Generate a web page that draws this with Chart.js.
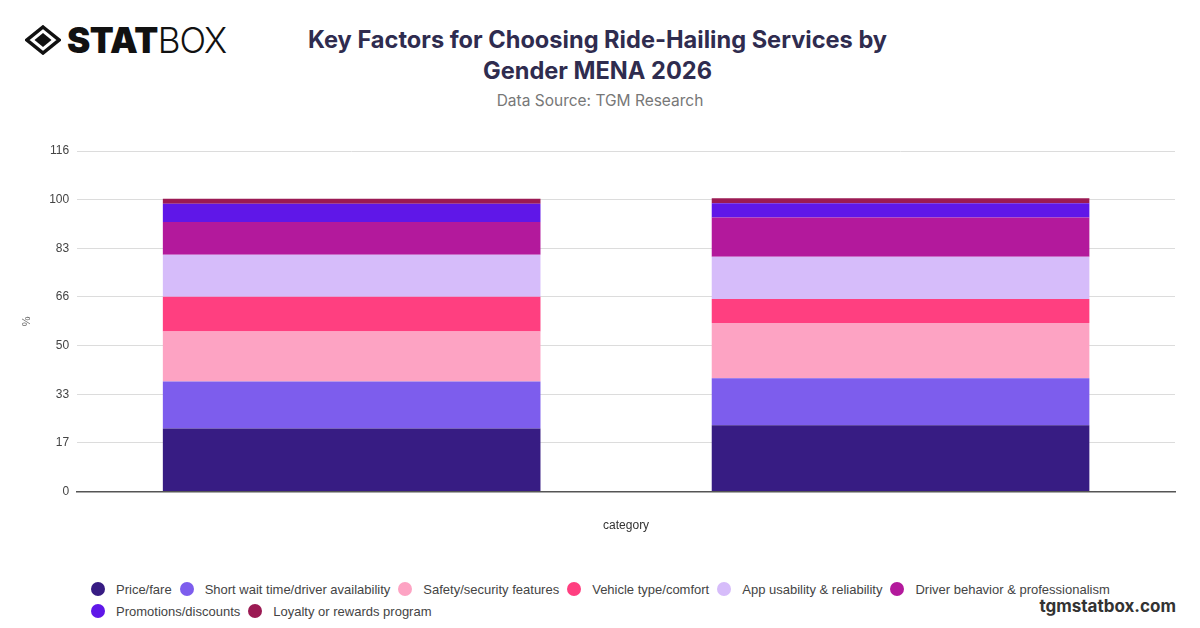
<!DOCTYPE html>
<html>
<head>
<meta charset="utf-8">
<script src="https://cdn.jsdelivr.net/npm/chart.js@4.4.1/dist/chart.umd.min.js"></script>
<style>
  html, body { margin: 0; padding: 0; background: #fff; }
  body { width: 1200px; height: 628px; position: relative; overflow: hidden; font-family: Inter, "Liberation Sans", sans-serif; }
  #logo { position: absolute; left: 25px; top: 24px; height: 32px; display: flex; align-items: center; }
  #logo .stat { font-weight: 900; font-size: 35px; color: #111; letter-spacing: -0.5px; margin-left: 6px; }
  #logo .box { font-weight: 300; font-size: 35px; color: #111; letter-spacing: -1px; }
  #title { position: absolute; left: 0; width: 1195px; top: 24px; text-align: center; font-weight: 700; font-size: 23.6px; line-height: 31px; color: #2f2c4f; }
  #subtitle { position: absolute; left: 0; width: 1200px; top: 91px; text-align: center; font-size: 15.5px; color: #777; }
  #wrap { position: absolute; left: 0; top: 130px; width: 1200px; height: 427px; }
  #legend { position: absolute; left: 91px; top: 581px; width: 1060px; display: flex; flex-wrap: wrap; row-gap: 6px; }
  #legend .item { display: flex; align-items: center; margin-right: 8px; font-family: "Liberation Sans", Arial, sans-serif; font-size: 13px; color: #444; height: 16px; }
  #legend .dot { width: 14px; height: 14px; border-radius: 50%; margin-right: 11px; }
  #brand { position: absolute; right: 24px; top: 596px; font-weight: 700; font-size: 17px; color: #333; }
</style>
</head>
<body>
<div id="logo">
  <svg width="36" height="30" viewBox="0 0 36 30">
    <path d="M18 2 L34 15 L18 28 L2 15 Z" fill="none" stroke="#111" stroke-width="3.5"/>
    <path d="M18 8 L26.5 15 L18 22 L9.5 15 Z" fill="#111"/>
  </svg>
  <span class="stat">STAT</span><span class="box">BOX</span>
</div>
<div id="title">Key Factors for Choosing Ride-Hailing Services by<br>Gender MENA 2026</div>
<div id="subtitle">Data Source: TGM Research</div>
<div id="wrap"><canvas id="c"></canvas></div>
<div id="legend"></div>
<div id="brand">tgmstatbox.com</div>
<script>
const categories = ['Male', 'Female'];
const seriesNames = [
  'Price/fare',
  'Short wait time/driver availability',
  'Safety/security features',
  'Vehicle type/comfort',
  'App usability & reliability',
  'Driver behavior & professionalism',
  'Promotions/discounts',
  'Loyalty or rewards program'
];
const priceFare = [21.5, 22.6];
const shortWait = [16.1, 16.1];
const safety = [17.0, 18.8];
const vehicle = [11.9, 8.2];
const appUsability = [14.3, 14.4];
const driverBehavior = [11.2, 13.4];
const promotions = [6.2, 4.9];
const loyalty = [1.7, 1.7];
const seriesValues = [priceFare, shortWait, safety, vehicle, appUsability, driverBehavior, promotions, loyalty];
const seriesColors = ['#371c83', '#7d5ded', '#fda3c3', '#ff3f80', '#d6bcfa', '#b3199c', '#5f17e8', '#9b1a53'];
const yTickValues = [0, 16.6, 33.2, 49.8, 66.4, 83, 99.6, 116.2];
const yMax = 116.2;

const datasets = seriesNames.map((name, i) => ({
  label: name,
  data: seriesValues[i],
  backgroundColor: seriesColors[i],
  borderWidth: 0,
  barPercentage: 0.86,
  categoryPercentage: 0.8
}));

new Chart(document.getElementById('c'), {
  type: 'bar',
  data: { labels: categories, datasets: datasets },
  options: {
    responsive: true,
    maintainAspectRatio: false,
    animation: false,
    layout: { padding: { left: 4, right: 25, top: 21, bottom: 0 } },
    plugins: { legend: { display: false }, tooltip: { enabled: false } },
    scales: {
      x: {
        stacked: true,
        grid: { display: false },
        border: { display: true, color: '#555', width: 1.5 },
        ticks: { display: false },
        title: { display: true, text: 'category', color: '#333', font: { family: 'Liberation Sans', size: 12 }, padding: { top: 18.5, bottom: 24.5 } }
      },
      y: {
        stacked: true,
        min: 0,
        max: yMax,
        afterBuildTicks: (scale) => { scale.ticks = yTickValues.map(v => ({ value: v })); },
        ticks: { color: '#444', font: { family: 'Liberation Sans', size: 12 }, padding: 8, callback: (v) => Math.round(v) },
        grid: { color: '#dcdcdc', drawTicks: false },
        border: { display: false },
        title: { display: true, text: '%', color: '#666', font: { family: 'Liberation Sans', size: 11 }, padding: { top: 16, bottom: 8 } }
      }
    }
  }
});

const legend = document.getElementById('legend');
seriesNames.forEach((name, i) => {
  const item = document.createElement('div');
  item.className = 'item';
  const dot = document.createElement('span');
  dot.className = 'dot';
  dot.style.background = seriesColors[i];
  const txt = document.createElement('span');
  txt.textContent = name;
  item.appendChild(dot);
  item.appendChild(txt);
  legend.appendChild(item);
});
</script>
</body>
</html>
